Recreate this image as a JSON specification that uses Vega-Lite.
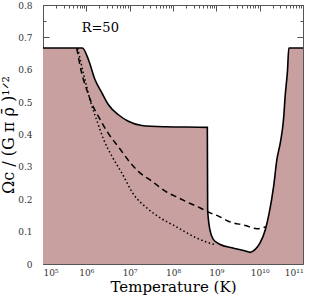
{
  "$schema": "https://vega.github.io/schema/vega-lite/v6.json",
  "width": 260,
  "height": 259,
  "autosize": {"type": "none"},
  "padding": {"left": 43, "top": 5, "right": 9, "bottom": 36},
  "config": {
    "view": {"stroke": null},
    "font": "DejaVu Serif",
    "axis": {
      "grid": false,
      "domainColor": "#555",
      "tickColor": "#555",
      "labelFont": "DejaVu Serif",
      "titleFont": "DejaVu Serif",
      "labelColor": "#333",
      "labelFontSize": 9,
      "titleColor": "#000",
      "titleFontWeight": "normal",
      "zindex": 1
    }
  },
  "datasets": {
    "solid": [
      {"T": 1e5, "v": 0.667},
      {"T": 8.1e5, "v": 0.667},
      {"T": 1.12e6, "v": 0.631},
      {"T": 1.58e6, "v": 0.57},
      {"T": 2.3e6, "v": 0.528},
      {"T": 3.24e6, "v": 0.492},
      {"T": 5.5e6, "v": 0.461},
      {"T": 9.3e6, "v": 0.441},
      {"T": 1.9e7, "v": 0.428},
      {"T": 6.6e7, "v": 0.424},
      {"T": 6.2e8, "v": 0.422},
      {"T": 6.3e8, "v": 0.168},
      {"T": 7.1e8, "v": 0.106},
      {"T": 8.5e8, "v": 0.076},
      {"T": 1.23e9, "v": 0.06},
      {"T": 2.3e9, "v": 0.05},
      {"T": 4.7e9, "v": 0.04},
      {"T": 6.0e9, "v": 0.036},
      {"T": 7.9e9, "v": 0.045},
      {"T": 1.02e10, "v": 0.065},
      {"T": 1.35e10, "v": 0.106},
      {"T": 1.66e10, "v": 0.158},
      {"T": 2.1e10, "v": 0.24},
      {"T": 2.5e10, "v": 0.323},
      {"T": 3.0e10, "v": 0.375},
      {"T": 3.55e10, "v": 0.446},
      {"T": 3.9e10, "v": 0.523},
      {"T": 4.4e10, "v": 0.6},
      {"T": 4.7e10, "v": 0.667},
      {"T": 1e11, "v": 0.667}
    ],
    "dashed": [
      {"T": 6.0e5, "v": 0.667},
      {"T": 7.8e5, "v": 0.59},
      {"T": 1.02e6, "v": 0.539},
      {"T": 1.32e6, "v": 0.497},
      {"T": 1.9e6, "v": 0.456},
      {"T": 3.16e6, "v": 0.405},
      {"T": 6.0e6, "v": 0.355},
      {"T": 1e7, "v": 0.315},
      {"T": 1.58e7, "v": 0.286},
      {"T": 3.24e7, "v": 0.256},
      {"T": 6.6e7, "v": 0.225},
      {"T": 1.35e8, "v": 0.204},
      {"T": 2.5e8, "v": 0.187},
      {"T": 4.27e8, "v": 0.173},
      {"T": 7.2e8, "v": 0.158},
      {"T": 1.12e9, "v": 0.148},
      {"T": 1.9e9, "v": 0.132},
      {"T": 4.7e9, "v": 0.119},
      {"T": 8.7e9, "v": 0.109},
      {"T": 1.38e10, "v": 0.115}
    ],
    "dotted": [
      {"T": 6.3e5, "v": 0.667},
      {"T": 8.9e5, "v": 0.58},
      {"T": 1.26e6, "v": 0.5},
      {"T": 1.78e6, "v": 0.44},
      {"T": 2.5e6, "v": 0.385},
      {"T": 4e6, "v": 0.33},
      {"T": 6.6e6, "v": 0.281},
      {"T": 1.23e7, "v": 0.215},
      {"T": 2.5e7, "v": 0.173},
      {"T": 5e7, "v": 0.143},
      {"T": 1.12e8, "v": 0.117},
      {"T": 3.55e8, "v": 0.08},
      {"T": 7.2e8, "v": 0.064},
      {"T": 1e9, "v": 0.059}
    ]
  },
  "layer": [
    {
      "data": {"name": "solid"},
      "mark": {"type": "area", "color": "#c9a0a0", "opacity": 1, "clip": true, "interpolate": "monotone"},
      "encoding": {
        "x": {
          "field": "T", "type": "quantitative",
          "scale": {"type": "log", "domain": [1e5, 1e11], "nice": false},
          "axis": {
            "orient": "bottom",
            "values": [1e5, 1e6, 1e7, 1e8, 1e9, 1e10, 1e11],
            "tickSize": -6,
            "labelPadding": 10,
            "labelExpr": "'10' + ['','','','','','⁵','⁶','⁷','⁸','⁹','¹⁰','¹¹'][round(log(datum.value)/LN10)]",
            "title": "Temperature (K)",
            "titleFontSize": 15,
            "titlePadding": 2
          }
        },
        "y": {
          "field": "v", "type": "quantitative",
          "scale": {"domain": [0, 0.8], "nice": false},
          "axis": {
            "orient": "left",
            "values": [0, 0.1, 0.2, 0.3, 0.4, 0.5, 0.6, 0.7, 0.8],
            "format": ".1~f",
            "tickSize": -6,
            "labelPadding": 17,
            "title": "Ωc / (G π ρ̄ )¹ᐟ²",
            "titleFontSize": 16,
            "titlePadding": 1
          }
        }
      }
    },
    {
      "data": {"name": "dashed"},
      "mark": {"type": "line", "color": "#000", "strokeWidth": 1.5, "strokeDash": [6, 4], "clip": true, "interpolate": "monotone"},
      "encoding": {
        "x": {
          "field": "T", "type": "quantitative",
          "axis": {
            "orient": "bottom",
            "values": [2e5,3e5,4e5,5e5,6e5,7e5,8e5,9e5,2e6,3e6,4e6,5e6,6e6,7e6,8e6,9e6,2e7,3e7,4e7,5e7,6e7,7e7,8e7,9e7,2e8,3e8,4e8,5e8,6e8,7e8,8e8,9e8,2e9,3e9,4e9,5e9,6e9,7e9,8e9,9e9,2e10,3e10,4e10,5e10,6e10,7e10,8e10,9e10],
            "tickSize": -3, "labels": false, "domain": false, "title": null
          }
        },
        "y": {
          "field": "v", "type": "quantitative",
          "axis": {
            "orient": "left",
            "values": [0.05, 0.15, 0.25, 0.35, 0.45, 0.55, 0.65, 0.75],
            "tickSize": -3, "labels": false, "domain": false, "title": null
          }
        }
      }
    },
    {
      "data": {"name": "dotted"},
      "mark": {"type": "line", "color": "#000", "strokeWidth": 1.5, "strokeDash": [1.5, 2.5], "clip": true, "interpolate": "monotone"},
      "encoding": {
        "x": {
          "field": "T", "type": "quantitative",
          "axis": {
            "orient": "top",
            "values": [1e5, 1e6, 1e7, 1e8, 1e9, 1e10, 1e11],
            "tickSize": -6, "labels": false, "title": null
          }
        },
        "y": {
          "field": "v", "type": "quantitative",
          "axis": {
            "orient": "right",
            "values": [0, 0.1, 0.2, 0.3, 0.4, 0.5, 0.6, 0.7, 0.8],
            "tickSize": -6, "labels": false, "title": null
          }
        }
      }
    },
    {
      "data": {"name": "solid"},
      "mark": {"type": "line", "color": "#000", "strokeWidth": 1.6, "clip": true, "interpolate": "monotone"},
      "encoding": {
        "x": {
          "field": "T", "type": "quantitative",
          "axis": {
            "orient": "top",
            "values": [2e5,3e5,4e5,5e5,6e5,7e5,8e5,9e5,2e6,3e6,4e6,5e6,6e6,7e6,8e6,9e6,2e7,3e7,4e7,5e7,6e7,7e7,8e7,9e7,2e8,3e8,4e8,5e8,6e8,7e8,8e8,9e8,2e9,3e9,4e9,5e9,6e9,7e9,8e9,9e9,2e10,3e10,4e10,5e10,6e10,7e10,8e10,9e10],
            "tickSize": -3, "labels": false, "domain": false, "title": null
          }
        },
        "y": {
          "field": "v", "type": "quantitative",
          "axis": {
            "orient": "right",
            "values": [0.05, 0.15, 0.25, 0.35, 0.45, 0.55, 0.65, 0.75],
            "tickSize": -3, "labels": false, "domain": false, "title": null
          }
        }
      }
    },
    {
      "data": {"values": [{"T": 2.1e6, "v": 0.73, "label": "R=50"}]},
      "mark": {"type": "text", "font": "DejaVu Serif", "fontSize": 13, "color": "#000", "baseline": "middle", "align": "center"},
      "encoding": {
        "x": {"field": "T", "type": "quantitative", "axis": null},
        "y": {"field": "v", "type": "quantitative", "axis": null},
        "text": {"field": "label"}
      }
    }
  ]
}
